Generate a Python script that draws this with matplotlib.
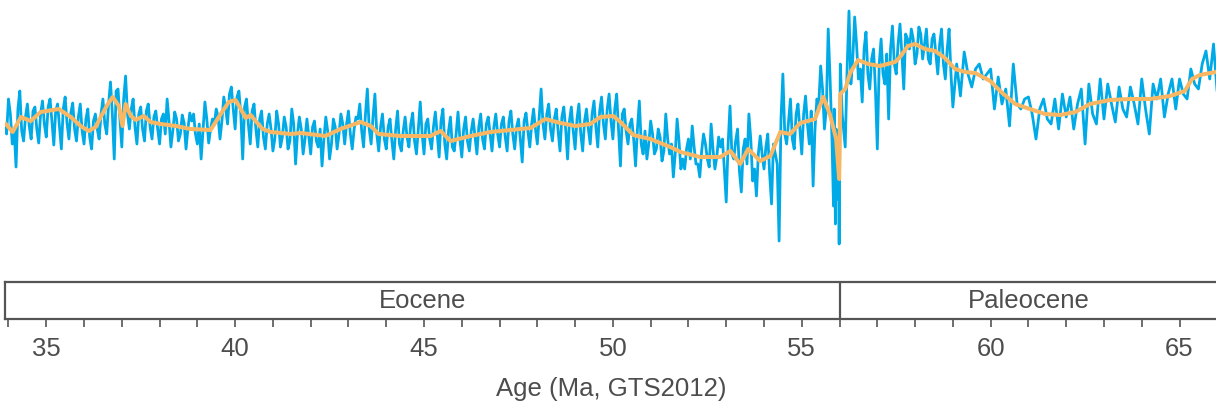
import numpy as np
import matplotlib
matplotlib.use("Agg")
import matplotlib.pyplot as plt
from matplotlib.ticker import MultipleLocator

plt.rcParams['font.family'] = ['Liberation Sans', 'DejaVu Sans']

# ---- Data (benthic record, per mille) ----
# Eocene part sampled every 0.1 Ma starting at 33.9 Ma
blue_start_1 = 33.9
blue_val_1 = [
    1.35, 1.60, 1.15, 0.92, 1.68, 1.18, 1.55, 1.20, 1.52, 1.16,
    1.58, 1.22, 1.60, 1.14, 1.55, 1.10, 1.62, 1.20, 1.56, 1.18,
    1.55, 1.15, 1.50, 1.10, 1.45, 1.20, 1.60, 1.25, 1.77, 1.00,
    1.70, 1.12, 1.83, 1.30, 1.60, 1.15, 1.52, 1.18, 1.55, 1.20,
    1.48, 1.15, 1.45, 1.60, 1.12, 1.47, 1.18, 1.44, 1.10, 1.46,
    1.45, 1.15, 1.00, 1.57, 1.16, 1.40, 1.50, 1.20, 1.62, 1.35,
    1.72, 1.30, 1.68, 1.00, 1.60, 1.15, 1.55, 1.12, 1.48, 1.10,
    1.45, 1.08, 1.48, 1.12, 1.42, 1.10, 1.50, 0.95, 1.42, 1.05,
    1.40, 1.05, 1.38, 1.12, 0.93, 1.42, 1.00, 1.40, 1.10, 1.45,
    1.15, 1.48, 1.10, 1.42, 1.55, 1.12, 1.70, 1.15, 1.65, 1.08,
    1.45, 1.10, 1.40, 1.00, 1.48, 1.08, 1.42, 1.12, 1.46, 1.05,
    1.57, 1.05, 1.40, 1.10, 1.47, 1.02, 1.50, 1.00, 1.42, 1.08,
    1.47, 1.02, 1.42, 1.08, 1.40, 1.05, 1.45, 1.10, 1.42, 1.08,
    1.45, 1.12, 1.42, 1.08, 1.48, 1.10, 1.40, 0.97, 1.46, 1.12,
    1.50, 1.15, 1.70, 1.20, 1.55, 1.18, 1.50, 1.08, 1.52, 1.00,
    1.52, 1.10, 1.55, 1.08, 1.50, 1.15, 1.58, 1.12, 1.62, 1.20,
    1.65, 1.20, 1.65, 0.93, 1.50, 1.15, 1.40, 0.93, 1.58, 1.05,
    1.00, 1.38, 1.05, 1.30, 0.98, 1.45, 1.05, 0.82, 1.40, 0.90,
    0.90, 1.20, 1.33, 0.95, 0.82, 1.25, 1.00, 1.35, 0.90, 1.22,
    1.20, 0.57, 1.53, 1.00, 1.30, 0.67, 1.20, 1.45, 0.78, 0.63,
    1.23, 0.90, 1.25, 0.55, 1.05, 0.18, 1.85, 1.15, 1.60, 1.10,
    1.55, 1.05, 1.63, 1.15, 0.73, 1.60, 1.93, 1.30, 2.30, 1.20,
]
# Eocene samples in between, every 0.1 Ma starting at 33.95 Ma
blue_start_1b = 33.95
blue_val_1b = [
    1.25, 1.45, 1.30, 1.50, 1.28, 1.42, 1.33, 1.48, 1.30, 1.45,
    1.35, 1.52, 1.38, 1.48, 1.32, 1.50, 1.36, 1.46, 1.30, 1.42,
    1.28, 1.40, 1.22, 1.38, 1.30, 1.45, 1.35, 1.55, 1.45, 1.68,
    1.40, 1.60, 1.45, 1.50, 1.32, 1.45, 1.30, 1.48, 1.32, 1.42,
    1.30, 1.40, 1.25, 1.38, 1.28, 1.40, 1.25, 1.36, 1.30, 1.38,
    1.25, 1.35, 1.28, 1.40, 1.30, 1.35, 1.42, 1.38, 1.50, 1.65,
    1.50, 1.62, 1.45, 1.52, 1.35, 1.48, 1.30, 1.40, 1.22, 1.35,
    1.30, 1.20, 1.35, 1.22, 1.32, 1.18, 1.35, 1.25, 1.30, 1.20,
    1.22, 1.32, 1.18, 1.30, 1.20, 1.28, 1.15, 1.32, 1.25, 1.35,
    1.35, 1.25, 1.30, 1.40, 1.28, 1.45, 1.30, 1.42, 1.25, 1.32,
    1.20, 1.32, 1.18, 1.30, 1.15, 1.28, 1.22, 1.35, 1.18, 1.30,
    1.25, 1.35, 1.20, 1.32, 1.25, 1.38, 1.15, 1.28, 1.12, 1.25,
    1.20, 1.30, 1.18, 1.28, 1.22, 1.32, 1.20, 1.35, 1.25, 1.32,
    1.25, 1.35, 1.22, 1.38, 1.25, 1.32, 1.20, 1.38, 1.28, 1.35,
    1.30, 1.42, 1.35, 1.45, 1.30, 1.40, 1.28, 1.42, 1.30, 1.38,
    1.28, 1.40, 1.25, 1.38, 1.30, 1.45, 1.32, 1.48, 1.35, 1.50,
    1.38, 1.50, 1.30, 1.45, 1.28, 1.35, 1.20, 1.30, 1.15, 1.28,
    1.15, 1.25, 1.10, 1.22, 1.08, 1.20, 1.15, 1.05, 1.18, 1.00,
    1.10, 1.00, 1.12, 0.95, 1.08, 1.15, 0.92, 1.10, 1.02, 1.12,
    0.90, 1.15, 1.05, 1.18, 0.88, 1.10, 0.95, 1.20, 0.90, 1.05,
    1.05, 1.12, 0.85, 1.15, 0.95, 1.40, 1.25, 1.38, 1.20, 1.45,
    1.30, 1.45, 1.35, 1.48, 1.30, 1.55, 1.70, 1.50, 1.80, 0.80,
]
# Paleocene-Eocene boundary interval
blue_age_petm = [55.84, 55.86, 55.89, 55.91, 55.94, 55.97, 55.99,
                 56.02, 56.07, 56.15, 56.20, 56.25]
blue_val_petm = [0.53, 1.50, 0.35, 1.30, 0.60, 1.00, 0.15,
                 1.95, 1.45, 1.12, 1.90, 2.48]
# Paleocene part sampled every 0.1 Ma starting at 56.3 Ma
blue_start_2 = 56.3
blue_val_2 = [
    1.75, 2.42, 1.80, 1.57, 2.27, 1.70, 2.10, 1.10, 2.20, 1.75,
    1.40, 2.33, 1.85, 2.35, 1.70, 2.20, 2.30, 1.95, 2.32, 2.00,
    2.30, 1.95, 2.25, 1.85, 2.30, 1.80, 2.30, 1.52, 1.95, 1.63,
    2.07, 1.85, 1.72, 1.90, 1.95, 1.80, 1.85, 1.90, 1.50, 1.82,
    1.55, 1.70, 1.33, 1.95, 1.55, 1.50, 1.60, 1.62, 1.45, 1.20,
    1.50, 1.60, 1.40, 1.35, 1.60, 1.30, 1.65, 1.42, 1.62, 1.30,
    1.55, 1.70, 1.15, 1.75, 1.45, 1.35, 1.80, 1.40, 1.75, 1.55,
    1.37, 1.72, 1.50, 1.42, 1.72, 1.55, 1.35, 1.80, 1.50, 1.25,
    1.75, 1.60, 1.80, 1.42, 1.65, 1.80, 1.50, 1.80, 1.65, 1.60,
    1.90, 1.75, 1.70, 1.95, 2.08, 1.80, 2.15, 1.65,
]
# Paleocene samples in between, every 0.1 Ma starting at 56.35 Ma
blue_start_2b = 56.35
blue_val_2b = [
    2.00, 2.15, 1.90, 2.10, 1.85, 2.00, 1.70, 1.95, 1.85, 2.05,
    2.10, 1.95, 2.15, 2.05, 2.25, 2.10, 2.20, 2.05, 2.25, 2.15,
    2.00, 2.20, 2.05, 2.15, 1.95, 2.10, 1.85,
]

# Running average
orange_age = [33.93, 34.11, 34.33, 34.59, 34.85, 35.33, 35.65, 35.91, 36.12, 36.31,
              36.44, 36.63, 36.76, 36.92, 37.02, 37.10, 37.24, 37.37, 37.58, 37.76,
              38.03, 38.43, 38.82, 39.35, 39.62, 39.83, 40.01, 40.15, 40.28, 40.41,
              40.54, 40.73, 40.94, 41.47, 41.73, 42.39, 42.79, 43.32, 43.59, 43.80,
              44.38, 45.17, 45.44, 45.70, 46.23, 46.76, 47.29, 47.82, 48.21, 48.61,
              49.01, 49.40, 49.67, 50.01, 50.20, 50.54, 50.99, 51.52, 51.79, 52.31,
              52.84, 53.11, 53.37, 53.58, 53.90, 54.17, 54.43, 54.69, 54.96, 55.35,
              55.57, 55.75, 55.91, 55.99, 56.02, 56.15, 56.28, 56.49, 56.76, 57.07,
              57.47, 57.60, 57.81, 58.00, 58.26, 58.53, 58.79, 59.06, 59.32, 59.59,
              59.99, 60.25, 60.65, 61.04, 61.44, 61.84, 62.24, 62.63, 63.16, 63.69,
              64.22, 64.75, 65.14, 65.33, 65.54, 65.96]
orange_val = [1.35, 1.27, 1.42, 1.38, 1.47, 1.50, 1.42, 1.33, 1.28, 1.32,
              1.42, 1.55, 1.62, 1.53, 1.33, 1.55, 1.43, 1.39, 1.43, 1.37,
              1.35, 1.33, 1.30, 1.29, 1.45, 1.57, 1.59, 1.50, 1.41, 1.44,
              1.38, 1.30, 1.27, 1.25, 1.26, 1.23, 1.30, 1.37, 1.33, 1.25,
              1.23, 1.23, 1.28, 1.18, 1.23, 1.27, 1.29, 1.31, 1.40, 1.36,
              1.33, 1.35, 1.42, 1.43, 1.37, 1.24, 1.20, 1.12, 1.07, 1.02,
              1.02, 1.08, 0.95, 1.10, 0.98, 1.03, 1.27, 1.25, 1.36, 1.40,
              1.62, 1.44, 1.20, 0.80, 1.65, 1.70, 1.86, 1.99, 1.95, 1.93,
              1.97, 2.02, 2.13, 2.15, 2.10, 2.08, 2.01, 1.90, 1.87, 1.86,
              1.78, 1.68, 1.55, 1.50, 1.45, 1.44, 1.47, 1.55, 1.59, 1.60,
              1.60, 1.63, 1.68, 1.80, 1.84, 1.87]

epoch_names = ["Eocene", "Paleocene"]
epoch_bounds = [(33.9, 56.0), (56.0, 66.0)]
major_ticks = [35, 40, 45, 50, 55, 60, 65]
xlabel = "Age (Ma, GTS2012)"

# ---- Build series (sampling grid + values, sorted by age) ----
step = 0.1
parts_age = [blue_start_1 + step * np.arange(len(blue_val_1)),
             blue_start_1b + step * np.arange(len(blue_val_1b)),
             np.array(blue_age_petm),
             blue_start_2 + step * np.arange(len(blue_val_2)),
             blue_start_2b + step * np.arange(len(blue_val_2b))]
parts_val = [blue_val_1, blue_val_1b, blue_val_petm, blue_val_2, blue_val_2b]
blue_age = np.concatenate(parts_age)
blue_val = np.concatenate([np.asarray(v, float) for v in parts_val])
order = np.argsort(blue_age, kind='stable')
blue_age, blue_val = blue_age[order], blue_val[order]

BLUE = '#00AAE7'
ORANGE = '#F9B763'
GREY = '#4D4D4D'
XMIN, XMAX = 33.9, 66.0

W, H = 1216, 406
fig = plt.figure(figsize=(W / 100, H / 100), dpi=100)

left = 4.7 / W
width = (1217.3 - 4.7) / W

ax = fig.add_axes([left, (H - 270) / H, width, 270 / H])
ax.plot(blue_age, blue_val, color=BLUE, lw=2.0, solid_joinstyle='round', zorder=2)
ax.plot(orange_age, orange_val, color=ORANGE, lw=2.9, solid_joinstyle='round', zorder=3)
ax.set_xlim(XMIN, XMAX)
ax.set_ylim(-0.1, 2.6)
ax.axis('off')

# Epoch bar with age axis
ex = fig.add_axes([left, (H - 320) / H, width, 37 / H])
ex.set_xlim(XMIN, XMAX)
ex.set_ylim(0, 1)
for s in ex.spines.values():
    s.set_color('#555555')
    s.set_linewidth(1.6)
for (a0, a1), name in zip(epoch_bounds, epoch_names):
    ex.axvline(a1, color='#555555', lw=1.6)
    ex.text((a0 + a1) / 2, 0.5, name, ha='center', va='center',
            fontsize=18.5, color=GREY)
ex.set_yticks([])
ex.xaxis.set_major_locator(plt.FixedLocator(major_ticks))
ex.xaxis.set_minor_locator(MultipleLocator(1))
ex.tick_params(axis='x', which='both', direction='out', length=5.5,
               width=1.2, color='#555555', labelsize=18.5, labelcolor=GREY, pad=7)
ex.set_xlabel(xlabel, fontsize=18.5, color=GREY, labelpad=11)

fig.savefig('out.png', dpi=100)
